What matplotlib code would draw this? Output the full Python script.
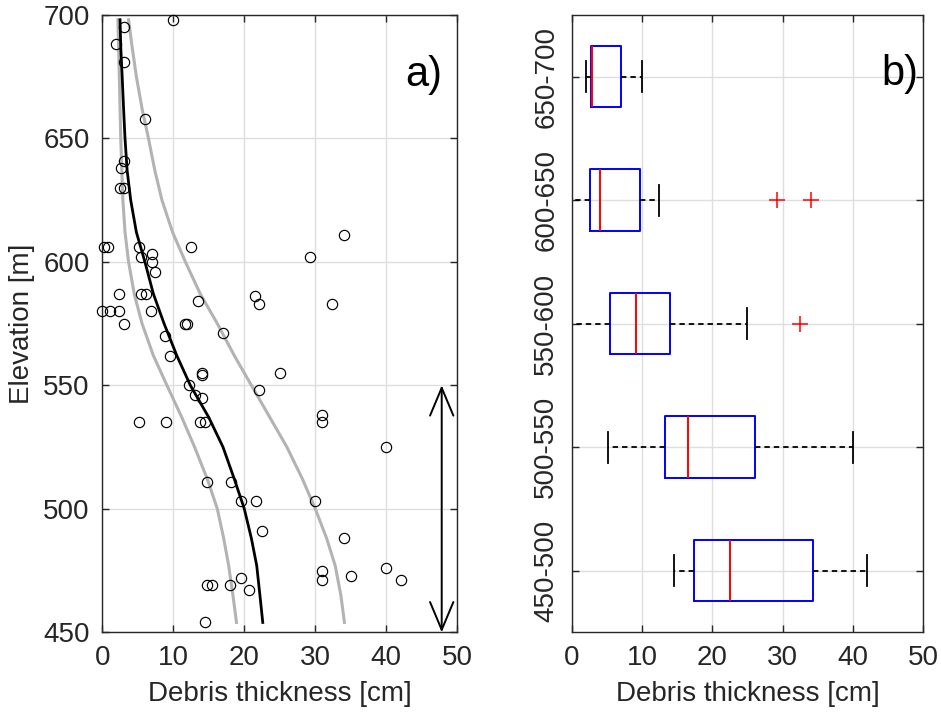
import matplotlib
matplotlib.use("Agg")
import matplotlib.pyplot as plt

plt.rcParams['font.family'] = ['Liberation Sans', 'DejaVu Sans']
plt.rcParams['font.size'] = 20

# ---------------- data: panel a) ----------------
pt_thick = [10.0, 3.1, 2.0, 3.1, 6.0, 3.0, 2.7, 2.5, 3.1,
            0.3, 0.85, 5.2, 12.5, 5.4, 7.0, 7.0, 7.4, 34.0, 29.2,
            2.3, 5.5, 6.1, 0.0, 1.1, 2.35, 3.1, 6.9, 13.5, 11.7, 11.9,
            8.8, 17.0, 9.5, 21.5, 22.0, 32.4, 25.0, 14.0, 14.0, 12.2,
            13.0, 14.0, 22.0, 31.0, 31.0, 5.2, 9.0, 13.7, 14.5, 40.0,
            14.8, 18.1, 19.5, 21.7, 30.0, 22.5, 34.0, 31.0, 31.0, 35.0,
            40.0, 42.0, 14.8, 15.4, 18.0, 19.5, 20.6, 14.5]
pt_elev = [698, 695, 688, 681, 658, 641, 638, 630, 630,
           606, 606, 606, 606, 602, 603, 600, 596, 611, 602,
           587, 587, 587, 580, 580, 580, 575, 580, 584, 575, 575,
           570, 571, 562, 586, 583, 583, 555, 555, 554, 550,
           546, 545, 548, 538, 535, 535, 535, 535, 535, 525,
           511, 511, 503, 503, 503, 491, 488, 475, 471, 473,
           476, 471, 469, 469, 469, 472, 467, 454]

fit_elev = [698, 687, 675, 662, 650, 637, 625, 612, 600, 587, 575,
            562, 550, 537, 525, 512, 500, 488, 477, 465, 454]
fit_mid = [2.5, 2.6, 2.8, 3.0, 3.2, 3.5, 4.0, 4.8, 6.0, 7.2, 8.7,
           10.5, 12.4, 15.0, 17.0, 18.6, 20.0, 21.0, 21.75, 22.2, 22.6]
fit_low = [2.2, 2.3, 2.4, 2.5, 2.6, 2.75, 2.9, 3.2, 3.7, 4.5, 5.6,
           7.2, 9.1, 11.2, 13.0, 14.8, 16.2, 17.1, 17.8, 18.4, 18.9]
fit_high = [3.7, 4.2, 4.8, 5.6, 6.5, 7.4, 8.4, 9.9, 11.7, 13.8, 16.2,
            18.6, 21.0, 23.6, 26.0, 28.2, 30.0, 31.6, 32.8, 33.6, 34.1]

arrow_x = 47.8
arrow_range = [550, 450]

# ---------------- data: panel b) ----------------
bins = ['450-500', '500-550', '550-600', '600-650', '650-700']
box_q1 = [17.35, 13.3, 5.45, 2.56, 2.75]
box_med = [22.5, 16.5, 9.1, 4.07, 2.93]
box_q3 = [34.3, 26.0, 14.0, 9.76, 6.97]
whisk_lo = [14.5, 5.16, 0.0, 0.0, 2.0]
whisk_hi = [42.0, 40.0, 25.0, 12.46, 10.0]
outliers = [[], [], [32.4], [29.2, 34.0], []]

spine_col = '#262626'
grid_col = '#dedede'

fig = plt.figure(figsize=(9.41, 7.12), dpi=100)
axa = fig.add_axes([0.1087, 0.1119, 0.3773, 0.8673])
axb = fig.add_axes([0.6075, 0.1119, 0.3737, 0.8673])


def style(ax):
    for s in ax.spines.values():
        s.set_color(spine_col)
        s.set_linewidth(1.0)
    ax.tick_params(direction='in', length=5, width=1.0, color=spine_col,
                   top=True, right=True, labelsize=20, pad=9,
                   labelcolor='#262626')
    ax.grid(True, color=grid_col, linewidth=1.0)
    ax.set_axisbelow(True)


# ---- panel a
style(axa)
axa.plot(fit_low, fit_elev, color='#b3b3b3', lw=2.2, zorder=2)
axa.plot(fit_high, fit_elev, color='#b3b3b3', lw=2.2, zorder=2)
axa.plot(fit_mid, fit_elev, color='black', lw=2.0, zorder=3)
axa.plot(pt_thick, pt_elev, 'o', mfc='none', mec='black', ms=7.4,
         mew=0.85, zorder=4, clip_on=False)
axa.annotate('', xy=(arrow_x, arrow_range[1]), xytext=(arrow_x, arrow_range[0]),
             arrowprops=dict(arrowstyle='<->,head_length=1.0,head_width=0.42',
                             mutation_scale=20, lw=1.4, color='black',
                             shrinkA=0, shrinkB=0), annotation_clip=False)
axa.set_xlim(0, 50)
axa.set_ylim(450, 700)
axa.set_xticks([0, 10, 20, 30, 40, 50])
axa.set_yticks([450, 500, 550, 600, 650, 700])
axa.set_xlabel('Debris thickness [cm]', fontsize=20, color='#262626', labelpad=7)
axa.set_ylabel('Elevation [m]', fontsize=20, color='#262626', labelpad=6)
axa.text(0.905, 0.902, 'a)', transform=axa.transAxes, fontsize=30,
         ha='center', va='center')

# ---- panel b
style(axb)
positions = list(range(1, len(bins) + 1))
stats = []
for i, lab in enumerate(bins):
    stats.append(dict(label=lab, q1=box_q1[i], med=box_med[i], q3=box_q3[i],
                      whislo=whisk_lo[i], whishi=whisk_hi[i],
                      fliers=outliers[i]))
axb.bxp(stats, positions=positions, vert=False, widths=0.5,
        capwidths=0.25, showfliers=True, patch_artist=False,
        boxprops=dict(color='blue', lw=1.4),
        medianprops=dict(color='red', lw=1.4),
        whiskerprops=dict(color='black', lw=1.3, linestyle=(0, (3, 2.2))),
        capprops=dict(color='black', lw=1.3),
        flierprops=dict(marker='+', markeredgecolor='red', markersize=11,
                        markeredgewidth=1.1, linestyle='none'))
axb.set_xlim(0, 50)
axb.set_ylim(0.5, 5.5)
axb.set_xticks([0, 10, 20, 30, 40, 50])
axb.set_xticklabels(['0', '10', '20', '30', '40', '50'])
axb.set_yticks(positions)
axb.set_yticklabels(bins, rotation=90, va='center')
axb.set_xlabel('Debris thickness [cm]', fontsize=20, color='#262626', labelpad=7)
axb.text(0.934, 0.904, 'b)', transform=axb.transAxes, fontsize=30,
         ha='center', va='center')

fig.savefig('out.png', dpi=100)
